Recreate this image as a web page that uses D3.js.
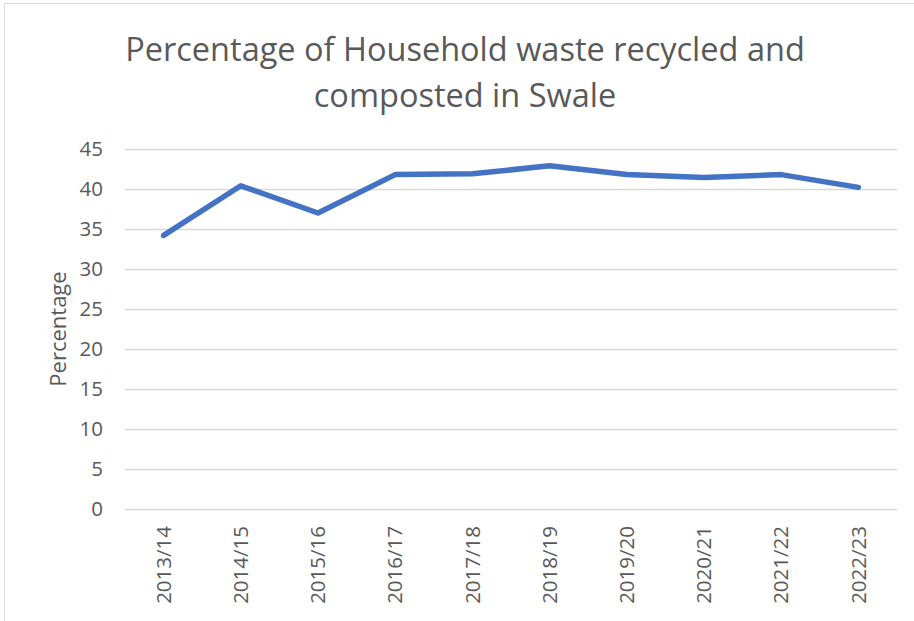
<!DOCTYPE html>
<html>
<head>
<meta charset="utf-8">
<script src="https://cdn.jsdelivr.net/npm/d3@7"></script>
<style>
  body { margin: 0; background: #fff; }
  text { font-family: "Open Sans", sans-serif; fill: #595959; }
</style>
</head>
<body>
<svg id="chart"></svg>
<script>
// data
const years = ["2013/14","2014/15","2015/16","2016/17","2017/18","2018/19","2019/20","2020/21","2021/22","2022/23"];
const recycled = [34.2, 40.4, 37.0, 41.8, 41.9, 42.9, 41.8, 41.45, 41.8, 40.2];
const yTicks = [0, 5, 10, 15, 20, 25, 30, 35, 40, 45];
const titleLines = ["Percentage of Household waste recycled and", "composted in Swale"];

const svgWidth = 914;
const svgHeight = 621;
const margin = { top: 149, right: 17, bottom: 112, left: 125 };
const width = svgWidth - margin.left - margin.right;
const height = svgHeight - margin.top - margin.bottom;

const svg = d3.select("#chart")
    .attr("width", svgWidth)
    .attr("height", svgHeight);

// chart frame
svg.append("rect")
    .attr("x", 4.5)
    .attr("y", 3.5)
    .attr("width", 940)
    .attr("height", 640)
    .attr("fill", "none")
    .attr("stroke", "#d9d9d9");

// title
svg.append("text")
    .attr("x", 465)
    .attr("y", 61)
    .attr("text-anchor", "middle")
    .style("font-size", "32.5px")
    .selectAll("tspan")
    .data(titleLines)
    .enter().append("tspan")
    .attr("x", 465)
    .attr("dy", (d, i) => i === 0 ? 0 : 46)
    .text(d => d);

const chart = svg.append("g")
    .attr("transform", "translate(" + margin.left + "," + margin.top + ")");

// scales
const xScale = d3.scaleBand()
    .domain(years)
    .range([0, width]);

const yScale = d3.scaleLinear()
    .domain([0, 45])
    .range([height, 0]);

// gridlines + y labels
const yAxis = chart.append("g")
    .attr("class", "y-axis")
    .call(d3.axisLeft(yScale).tickValues(yTicks).tickSize(-width).tickPadding(22));
yAxis.select(".domain").remove();
yAxis.selectAll("line").attr("stroke", "#d9d9d9").attr("stroke-width", 1.3);
yAxis.selectAll("text")
    .style("font-size", "20.5px")
    .attr("fill", "#595959");

// x axis labels, rotated
const xAxis = chart.append("g")
    .attr("class", "x-axis")
    .attr("transform", "translate(0," + height + ")")
    .call(d3.axisBottom(xScale).tickSize(0));
xAxis.select(".domain").remove();
xAxis.selectAll("text")
    .style("font-size", "20.5px")
    .attr("fill", "#595959")
    .attr("transform", "rotate(-90)")
    .attr("text-anchor", "end")
    .attr("x", -17)
    .attr("y", 0)
    .attr("dy", "0.35em");

// y axis title
svg.append("text")
    .attr("transform", "translate(58," + (margin.top + height / 2) + ") rotate(-90)")
    .attr("text-anchor", "middle")
    .attr("dy", "0.35em")
    .style("font-size", "22px")
    .text("Percentage");

// the line
const line = d3.line()
    .x(d => xScale(d.year) + xScale.bandwidth() / 2)
    .y(d => yScale(d.value));

chart.append("path")
    .datum(years.map((y, i) => ({ year: y, value: recycled[i] })))
    .attr("fill", "none")
    .attr("stroke", "#4472c4")
    .attr("stroke-width", 5.5)
    .attr("stroke-linecap", "round")
    .attr("stroke-linejoin", "round")
    .attr("d", line);
</script>
</body>
</html>
